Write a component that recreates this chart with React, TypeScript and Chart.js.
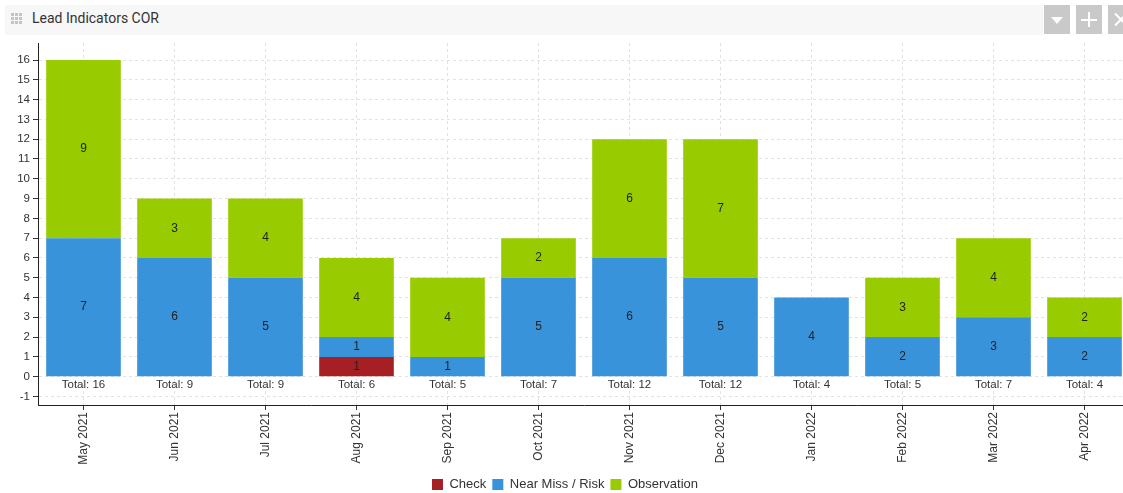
import React, { useEffect, useRef } from "react";
import { Chart, registerables } from "chart.js";

Chart.register(...registerables);

const categories = [
  "May 2021", "Jun 2021", "Jul 2021", "Aug 2021", "Sep 2021", "Oct 2021",
  "Nov 2021", "Dec 2021", "Jan 2022", "Feb 2022", "Mar 2022", "Apr 2022",
];
const checkValues = [null, null, null, 1, null, null, null, null, null, null, null, null];
const nearMissValues = [7, 6, 5, 1, 1, 5, 6, 5, 4, 2, 3, 2];
const observationValues = [9, 3, 4, 4, 4, 2, 6, 7, null, 3, 4, 2];
const totals = [16, 9, 9, 6, 5, 7, 12, 12, 4, 5, 7, 4];

const FONT = "'Liberation Sans', Arial, sans-serif";

const labelsPlugin = {
  id: "segmentAndTotals",
  afterDatasetsDraw(chart: any) {
    const { ctx } = chart;
    const xs = chart.scales.x;
    const ys = chart.scales.y;
    ctx.save();
    ctx.textAlign = "center";
    ctx.textBaseline = "middle";
    ctx.fillStyle = "#222";
    ctx.font = `12px ${FONT}`;
    chart.data.datasets.forEach((ds: any, di: number) => {
      const meta = chart.getDatasetMeta(di);
      meta.data.forEach((bar: any, i: number) => {
        const v = ds.data[i];
        if (!v) return;
        const p = bar.getProps(["x", "y", "base"], true);
        ctx.fillText(String(v), p.x, (p.y + p.base) / 2);
      });
    });
    ctx.fillStyle = "#333";
    ctx.font = `11.5px ${FONT}`;
    totals.forEach((t, i) => {
      ctx.fillText("Total: " + t, xs.getPixelForValue(i), ys.getPixelForValue(0) + 8);
    });
    ctx.restore();
  },
};

function Grip() {
  const dots = [];
  for (let r = 0; r < 3; r++)
    for (let c = 0; c < 3; c++)
      dots.push(
        <div key={r + "-" + c} style={{ position: "absolute", left: c * 4, top: r * 4, width: 3, height: 3, background: "#c4c4c4" }} />
      );
  return <div style={{ position: "absolute", left: 11, top: 13, width: 12, height: 12 }}>{dots}</div>;
}

function Btn({ left, kind }: { left: number; kind: string }) {
  return (
    <div style={{ position: "absolute", left, top: 5, width: 26, height: 29, background: "#c9c9c9" }}>
      {kind === "down" && (
        <div style={{ position: "absolute", left: 7, top: 12, width: 0, height: 0, borderLeft: "6px solid transparent", borderRight: "6px solid transparent", borderTop: "7px solid #fff" }} />
      )}
      {kind === "plus" && (
        <>
          <div style={{ position: "absolute", left: 12, top: 7, width: 2, height: 15, background: "#fff" }} />
          <div style={{ position: "absolute", left: 5, top: 14, width: 16, height: 2, background: "#fff" }} />
        </>
      )}
      {kind === "x" && (
        <>
          <div style={{ position: "absolute", left: 12, top: 6, width: 2, height: 17, background: "#fff", transform: "rotate(45deg)" }} />
          <div style={{ position: "absolute", left: 12, top: 6, width: 2, height: 17, background: "#fff", transform: "rotate(-45deg)" }} />
        </>
      )}
    </div>
  );
}

export default function App() {
  const ref = useRef<HTMLCanvasElement>(null);
  useEffect(() => {
    document.body.style.margin = "0";
    const chart = new Chart(ref.current as HTMLCanvasElement, {
      type: "bar",
      data: {
        labels: categories,
        datasets: [
          { label: "Check", data: checkValues as any, backgroundColor: "#a51f24" },
          { label: "Near Miss / Risk", data: nearMissValues, backgroundColor: "#3893db" },
          { label: "Observation", data: observationValues as any, backgroundColor: "#99cc00" },
        ],
      },
      options: {
        responsive: false,
        animation: false,
        devicePixelRatio: 1,
        layout: { padding: { top: 7, right: 7, left: 0, bottom: 0 } },
        datasets: { bar: { categoryPercentage: 1, barPercentage: 0.82, borderWidth: 0 } },
        plugins: {
          legend: {
            position: "bottom",
            labels: { boxWidth: 11, boxHeight: 11, padding: 6, color: "#333", font: { size: 13, family: FONT } },
          },
          tooltip: { enabled: false },
        },
        scales: {
          x: {
            stacked: true,
            afterFit: (s: any) => { s.height = 67; s.paddingLeft = 0; s.paddingRight = 0; },
            grid: { offset: false, color: "#e2e2e2", tickColor: "#333", tickBorderDash: [], tickLength: 5 } as any,
            border: { color: "#222", width: 1, dash: [3, 3] },
            ticks: { maxRotation: 90, minRotation: 90, padding: 2, color: "#333", font: { size: 12, family: FONT } },
          },
          y: {
            stacked: true,
            min: -1.43,
            max: 16.86,
            afterFit: (s: any) => { s.width = 38; s.paddingTop = 0; s.paddingBottom = 0; },
            grid: { color: "#e2e2e2", tickColor: "#333", tickLength: 5, tickBorderDash: [] } as any,
            border: { color: "#222", width: 1, dash: [3, 3] },
            ticks: { stepSize: 1, includeBounds: false, padding: 3, color: "#333", font: { size: 11.5, family: FONT } } as any,
          },
        },
      },
      plugins: [labelsPlugin],
    });
    return () => chart.destroy();
  }, []);

  return (
    <div style={{ position: "fixed", left: 0, top: 0, width: 1123, height: 493, overflow: "hidden", background: "#fff" }}>
      <div style={{ position: "absolute", left: 5, top: 5, width: 1038, height: 30, background: "#f7f7f7" }} />
      <Grip />
      <div style={{ position: "absolute", left: 32, top: 9, font: "14px Roboto, sans-serif", color: "#333", lineHeight: "18px" }}>
        Lead Indicators COR
      </div>
      <Btn left={1044} kind="down" />
      <Btn left={1076} kind="plus" />
      <Btn left={1108} kind="x" />
      <canvas ref={ref} width={1137} height={465} style={{ position: "absolute", left: 0, top: 36, width: 1137, height: 465 }} />
    </div>
  );
}
